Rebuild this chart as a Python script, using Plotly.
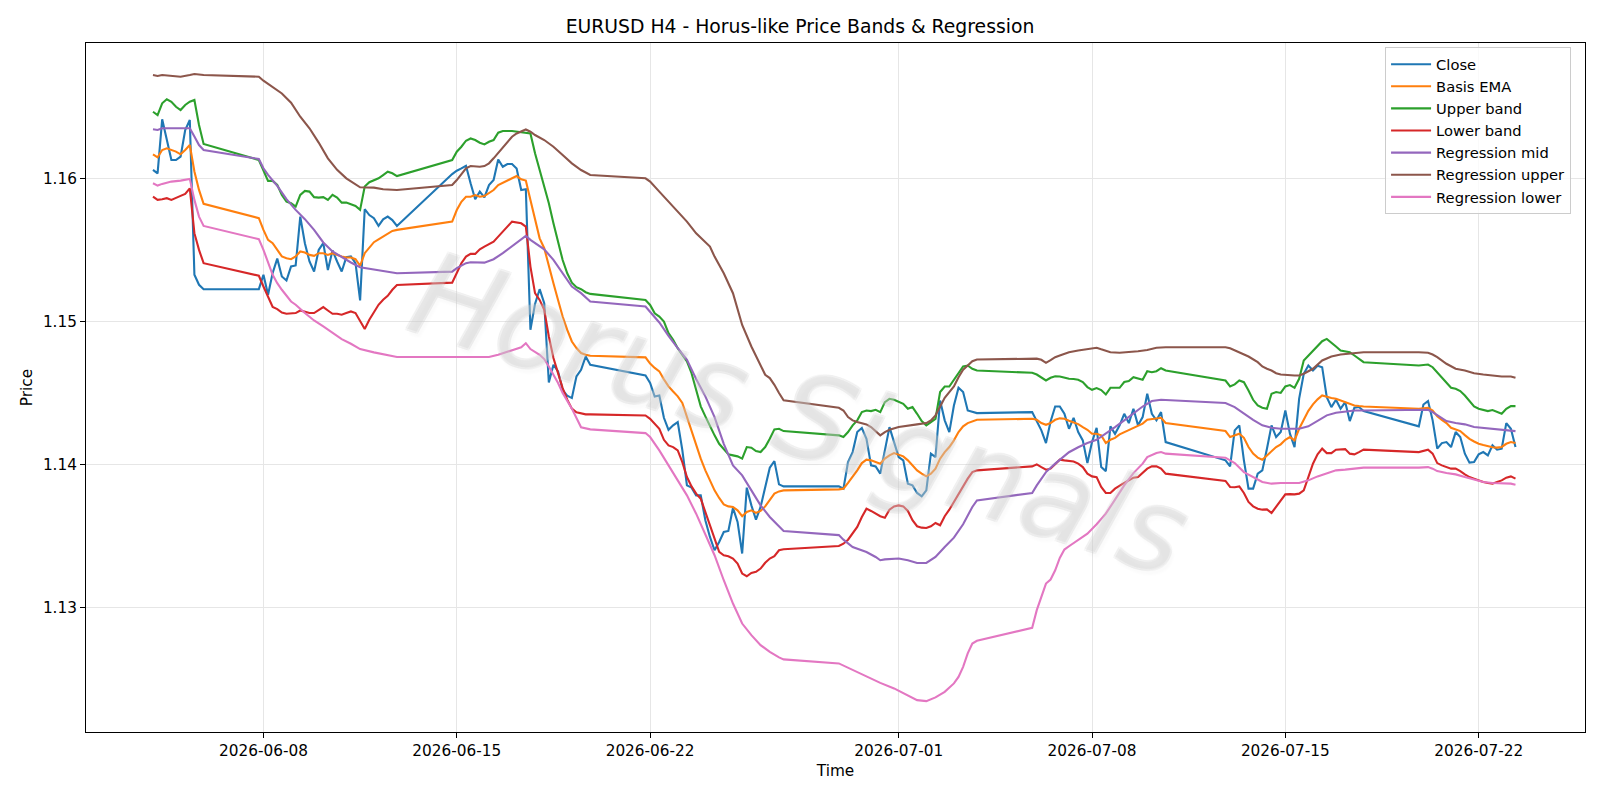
import pandas as pd
import plotly.graph_objects as go

BASE = pd.Timestamp("2026-06-04 00:00")

# Close (hours since 2026-06-04 00:00, price)
close_h = [0,4,8,12,16,20,24,28,32,36,40,44,
           92,96,100,104,108,112,116,120,124,128,132,136,140,144,148,152,156,160,164,168,172,176,180,184,188,192,196,200,204,208,212,
           260,264,268,272,276,280,284,288,292,296,300,304,308,312,316,320,324,328,332,336,340,344,348,352,356,360,364,368,372,376,380,
           428,432,436,440,444,448,452,456,460,464,468,472,476,480,484,488,492,496,500,504,508,512,516,520,524,528,532,536,540,544,548,
           596,600,604,608,612,616,620,624,628,632,636,640,644,648,652,656,660,664,668,672,676,680,684,688,692,696,700,704,708,712,716,
           764,768,772,776,780,784,788,792,796,800,804,808,812,816,820,824,828,832,836,840,844,848,852,856,860,864,868,872,876,880,
           932,936,940,944,948,952,956,960,964,968,972,976,980,984,988,992,996,1000,1004,1008,1012,1016,1020,1024,1028,1032,1036,1040,1044,1048,1052,
           1100,1104,1108,1112,1116,1120,1124,1128,1132,1136,1140,1144,1148,1152,1156,1160,1164,1168,1172,1176,1180,1184]
close_v = [1.16061,1.16037,1.16415,1.1627,1.1613,1.1613,1.16154,1.1634,1.1641,1.15327,1.15257,1.15226,
           1.15226,1.15327,1.15187,1.1534,1.1544,1.15315,1.15287,1.15385,1.15392,1.15734,1.15548,1.1542,1.1535,1.155,1.15548,1.1536,1.15497,1.1542,1.1535,1.1545,1.15455,1.15408,1.15147,1.15786,1.15745,1.15723,1.15669,1.15715,1.15734,1.1571,1.15669,
           1.16032,1.16055,1.16071,1.1609,1.15967,1.15855,1.15909,1.15869,1.15955,1.1599,1.16134,1.16083,1.16102,1.16102,1.16071,1.1592,1.15925,1.14942,1.15123,1.15226,1.15128,1.14574,1.14697,1.1465,1.14522,1.1448,1.14464,1.14616,1.14662,1.14755,1.14697,
           1.14623,1.1457,1.14475,1.14482,1.14326,1.14242,1.14273,1.14296,1.141,1.13853,1.13837,1.13783,1.13783,1.13609,1.13492,1.13399,1.13457,1.13527,1.13534,1.13695,1.13597,1.13376,1.13837,1.13713,1.13613,1.13702,1.13842,1.13977,1.14023,1.1386,1.13846,
           1.13846,1.1383,1.14016,1.14086,1.14226,1.14254,1.14179,1.13993,1.13986,1.13935,1.1411,1.14261,1.14156,1.14051,1.14028,1.13865,1.13853,1.138,1.13776,1.13818,1.14075,1.14051,1.14447,1.14308,1.14226,1.14412,1.14536,1.14506,1.14377,1.14366,1.14359,
           1.14366,1.1430,1.14238,1.14149,1.1430,1.14405,1.14405,1.14354,1.14249,1.14326,1.14226,1.14168,1.14009,1.14156,1.14256,1.13981,1.13953,1.14266,1.14214,1.14273,1.14354,1.14289,1.14389,1.14273,1.14331,1.14494,1.14354,1.14308,1.14366,1.14156,
           1.14028,1.13986,1.14238,1.14273,1.14028,1.1383,1.1383,1.13935,1.13958,1.1411,1.14273,1.14191,1.14226,1.14377,1.14215,1.14121,1.1446,1.14634,1.14692,1.14657,1.1469,1.1468,1.14471,1.14401,1.14452,1.14389,1.14436,1.14303,1.14396,1.14401,1.14373,
           1.14266,1.14419,1.14443,1.14308,1.1411,1.14149,1.14156,1.14121,1.14226,1.14191,1.14075,1.14012,1.14016,1.1407,1.14086,1.14063,1.14133,1.14103,1.1411,1.14289,1.14249,1.14121]

# Basis EMA
ema_h = [0,4,8,12,20,24,28,32,36,40,44,92,96,100,104,108,112,116,120,124,128,132,136,140,144,148,152,156,160,164,168,172,176,180,184,188,192,196,200,204,208,212,
         260,264,268,272,276,280,284,288,292,296,300,304,308,312,316,320,324,328,332,336,340,344,348,352,356,360,364,368,372,376,380,
         428,432,436,440,444,448,452,456,460,464,468,472,476,480,484,488,492,496,500,504,508,512,516,520,524,528,532,536,540,544,548,
         596,600,604,608,612,616,620,624,628,632,636,640,644,648,652,656,660,664,668,672,676,680,684,688,692,696,700,704,708,712,716,
         764,768,772,776,780,784,788,792,796,800,804,808,812,816,820,824,828,832,836,840,844,848,852,856,860,864,868,872,876,880,
         932,936,940,944,948,952,956,960,964,968,972,976,980,984,988,992,996,1000,1004,1008,1012,1016,1020,1024,1028,1032,1036,1040,1044,1048,1052,
         1100,1104,1108,1112,1116,1120,1124,1128,1132,1136,1140,1144,1148,1152,1156,1160,1164,1168,1172,1176,1180,1184]
ema_v = [1.1617,1.16149,1.162,1.16212,1.16189,1.1617,1.162,1.16235,1.1605,1.15921,1.15823,1.15723,1.15641,1.15571,1.15548,1.15501,1.15455,1.15443,1.15436,1.15455,1.1549,1.15483,1.15466,1.15459,1.15478,1.15478,1.15466,1.15478,1.15466,1.15455,1.15448,1.15448,1.15436,1.1539,1.15478,1.1552,1.15555,1.15575,1.15594,1.15615,1.15634,1.15641,
         1.15699,1.1578,1.15838,1.15873,1.15873,1.15885,1.15873,1.15878,1.15897,1.1592,1.15955,1.15971,1.1599,1.16007,1.16018,1.15995,1.15986,1.1585,1.1571,1.15582,1.15513,1.15384,1.15267,1.15151,1.15035,1.14941,1.1486,1.14814,1.14779,1.14767,1.1476,
         1.14749,1.14705,1.14675,1.14651,1.14595,1.14546,1.1451,1.14476,1.1443,1.1433,1.14235,1.14133,1.1404,1.13958,1.13885,1.13818,1.13765,1.1372,1.13706,1.13702,1.13678,1.13637,1.13667,1.13678,1.1366,1.13674,1.13706,1.13755,1.13795,1.13811,1.13818,
         1.13825,1.1383,1.1387,1.13911,1.13958,1.14009,1.14033,1.14028,1.14016,1.14005,1.1404,1.14063,1.14079,1.1407,1.14056,1.14028,1.13993,1.13958,1.13935,1.13916,1.13935,1.1397,1.1404,1.14086,1.14121,1.14168,1.14226,1.14266,1.14289,1.14303,1.14312,
         1.14319,1.14312,1.14289,1.14277,1.14289,1.14312,1.14322,1.14319,1.14305,1.14295,1.14282,1.1426,1.14242,1.14214,1.14214,1.14203,1.14149,1.14172,1.14185,1.1421,1.14225,1.14238,1.1425,1.14266,1.14285,1.14312,1.14316,1.14319,1.14326,1.1429,
         1.14233,1.14191,1.14203,1.14214,1.14186,1.14121,1.14075,1.14047,1.14033,1.14063,1.14098,1.14121,1.1414,1.14172,1.14191,1.14168,1.14249,1.1431,1.14375,1.1442,1.14455,1.14482,1.14471,1.14465,1.14459,1.14448,1.14436,1.14425,1.14412,1.14408,1.14405,
         1.14389,1.14392,1.14396,1.14377,1.14336,1.14312,1.14289,1.14256,1.14245,1.14233,1.14205,1.14179,1.1416,1.14144,1.14135,1.14126,1.1412,1.14117,1.14122,1.14144,1.14156,1.14149]

# Upper band
up_h = [0,4,8,12,16,20,24,28,32,36,40,44,92,96,100,104,108,112,116,120,124,128,132,136,140,144,148,152,156,160,164,168,172,176,180,184,188,192,196,200,204,208,212,
        260,264,268,272,276,280,284,288,292,296,300,304,312,320,324,328,332,336,340,344,348,352,356,360,364,368,372,376,380,
        428,432,436,440,444,448,452,456,460,464,468,472,476,480,484,488,492,496,500,504,508,512,516,520,524,528,532,536,540,544,548,
        596,600,604,608,612,616,620,624,628,632,636,640,644,648,652,656,660,664,668,672,676,680,684,688,692,696,700,704,708,712,716,
        764,768,772,776,780,784,788,792,796,800,804,808,812,816,820,824,828,832,836,840,844,848,852,856,860,864,868,872,876,880,
        932,936,940,944,948,952,956,960,964,968,972,976,980,984,988,992,996,1000,1004,1008,1012,1016,1020,1024,1028,1032,1036,1040,1044,1048,1052,
        1100,1104,1108,1112,1116,1120,1124,1128,1132,1136,1140,1144,1148,1152,1156,1160,1164,1168,1172,1176,1180,1184]
up_v = [1.16468,1.16445,1.16527,1.16555,1.16538,1.16503,1.1648,1.16515,1.16538,1.1655,1.16375,1.16242,1.1613,1.16061,1.15984,1.15984,1.15956,1.15886,1.15839,1.15828,1.15804,1.15886,1.15914,1.15909,1.1587,1.15867,1.1587,1.15851,1.15886,1.15867,1.15832,1.15832,1.15823,1.15809,1.15781,1.15944,1.15975,1.1599,1.16002,1.16025,1.16048,1.16037,1.16018,
        1.1613,1.16188,1.16223,1.16265,1.16281,1.1627,1.16251,1.16239,1.16258,1.1627,1.16321,1.16333,1.16333,1.16323,1.1632,1.16316,1.16177,1.1606,1.15955,1.15827,1.15687,1.15547,1.1543,1.15337,1.15272,1.1524,1.15226,1.15205,1.15193,
        1.1515,1.15116,1.15057,1.15034,1.14999,1.14918,1.14871,1.14813,1.14767,1.1472,1.14638,1.14522,1.14406,1.14336,1.14266,1.14203,1.14144,1.1411,1.1407,1.14063,1.14056,1.1404,1.14121,1.14117,1.14093,1.14086,1.14121,1.14179,1.14245,1.14249,1.14233,
        1.14203,1.14191,1.14226,1.14273,1.14308,1.14366,1.14377,1.14373,1.14382,1.14366,1.14436,1.14459,1.14452,1.14436,1.14424,1.14389,1.14401,1.14354,1.14303,1.14273,1.14296,1.14319,1.14506,1.14545,1.14545,1.14592,1.14645,1.14685,1.14692,1.14669,1.14657,
        1.14641,1.14629,1.14606,1.14587,1.14606,1.14617,1.14615,1.14606,1.14599,1.14597,1.14592,1.14576,1.14541,1.14522,1.14534,1.1452,1.14489,1.14536,1.14536,1.14536,1.14576,1.14583,1.1461,1.14599,1.14592,1.14652,1.14645,1.14652,1.14673,1.14657,
        1.14587,1.14545,1.1456,1.14587,1.14575,1.14517,1.14452,1.14412,1.14396,1.14389,1.14494,1.14506,1.145,1.14545,1.14555,1.14536,1.14599,1.14727,1.14762,1.14797,1.14832,1.14862,1.14878,1.14848,1.14825,1.14797,1.1479,1.14785,1.14762,1.14739,1.14715,
        1.14692,1.14696,1.14699,1.1468,1.14645,1.1461,1.14569,1.14536,1.14529,1.14513,1.14482,1.14443,1.14405,1.14389,1.1438,1.14373,1.1438,1.14366,1.14354,1.14389,1.14408,1.14408]

# Lower band
lo_h = up_h
lo_v = [1.15874,1.15851,1.15856,1.15863,1.15851,1.15867,1.15879,1.15893,1.15932,1.15618,1.15501,1.15408,1.1532,1.15245,1.15171,1.15101,1.15087,1.15063,1.15054,1.15054,1.15059,1.15077,1.1507,1.15059,1.15059,1.15077,1.15101,1.15077,1.15054,1.15054,1.15047,1.15059,1.1507,1.15059,1.15,1.14947,1.15012,1.15063,1.15117,1.15152,1.1518,1.15222,1.15256,
        1.15272,1.15338,1.15408,1.15454,1.15473,1.15473,1.15505,1.15524,1.15543,1.15559,1.15594,1.15629,1.15699,1.15687,1.15664,1.15384,1.15198,1.15151,1.15081,1.14895,1.14744,1.14639,1.14534,1.14453,1.1439,1.14365,1.14355,1.1435,1.1435,
        1.14342,1.14319,1.14284,1.14249,1.14172,1.14133,1.14121,1.14098,1.14016,1.13911,1.13846,1.13795,1.1376,1.13667,1.13562,1.13469,1.13387,1.13364,1.13357,1.13341,1.13306,1.13236,1.13217,1.1324,1.13248,1.13271,1.13311,1.13341,1.13357,1.13399,1.13406,
        1.13429,1.13445,1.13473,1.13515,1.13562,1.13632,1.1369,1.13674,1.13655,1.13637,1.13627,1.13683,1.13706,1.13713,1.13706,1.13674,1.13609,1.13567,1.13557,1.13555,1.13567,1.1359,1.13574,1.13637,1.13683,1.13737,1.138,1.13853,1.139,1.13946,1.13958,
        1.13986,1.14,1.13981,1.13963,1.1397,1.14005,1.14033,1.14028,1.14023,1.1402,1.14005,1.13981,1.13935,1.13916,1.13911,1.13842,1.138,1.138,1.1383,1.13853,1.1387,1.13888,1.13907,1.13911,1.13939,1.1397,1.13986,1.13986,1.1397,1.13935,
        1.13884,1.13842,1.1384,1.13846,1.138,1.13737,1.13706,1.1369,1.13683,1.13685,1.1366,1.13702,1.13748,1.1379,1.13792,1.1379,1.13795,1.13818,1.13911,1.14005,1.1407,1.1411,1.14079,1.14079,1.14103,1.14105,1.14107,1.14075,1.1407,1.14086,1.14103,
        1.14086,1.14095,1.14103,1.14075,1.14009,1.13993,1.13981,1.1397,1.1397,1.13953,1.1393,1.13911,1.139,1.13888,1.13877,1.1387,1.13865,1.13877,1.13888,1.13907,1.13916,1.139]

# Regression mid
rm_h = [0,4,8,32,36,40,44,92,96,100,108,116,124,132,140,148,156,164,172,180,188,196,212,260,264,272,276,288,296,304,312,320,324,328,336,340,348,356,364,372,380,
        428,432,440,448,452,456,460,464,472,480,488,496,504,512,520,528,536,544,548,596,600,608,620,628,632,636,648,656,664,672,680,688,696,704,712,716,
        764,768,772,776,784,792,796,804,812,820,828,836,844,852,860,868,876,880,932,940,948,956,964,972,980,996,1004,1012,1020,1028,1036,1044,1052,
        1100,1108,1112,1116,1124,1132,1140,1148,1156,1164,1172,1180,1184]
rm_v = [1.16345,1.1634,1.16352,1.16352,1.16294,1.16235,1.162,1.16137,1.16072,1.16026,1.15949,1.15856,1.15781,1.15716,1.15641,1.15553,1.1549,1.1545,1.15413,1.1538,1.15369,1.15355,1.15338,1.15349,1.15373,1.15408,1.15415,1.15412,1.15436,1.15478,1.15524,1.15571,1.15599,1.15571,1.15524,1.15505,1.15431,1.15338,1.15245,1.15198,1.1514,
        1.15105,1.1507,1.14993,1.149,1.14853,1.14813,1.14774,1.14732,1.14597,1.14476,1.14331,1.14144,1.13993,1.13923,1.13818,1.13713,1.13632,1.13562,1.13534,1.13505,1.13473,1.13422,1.13387,1.13352,1.13329,1.13335,1.13341,1.13329,1.1331,1.1331,1.13352,1.13422,1.13487,1.13581,1.13702,1.13748,
        1.138,1.13853,1.139,1.13946,1.14005,1.1406,1.14085,1.1412,1.14149,1.14172,1.14214,1.14261,1.14308,1.14354,1.14405,1.14443,1.14452,1.1445,1.14429,1.14401,1.14354,1.14312,1.14273,1.14256,1.14249,1.14249,1.14266,1.14303,1.14343,1.14361,1.14371,1.14377,1.14377,
        1.14377,1.14382,1.14366,1.14343,1.14303,1.14289,1.1428,1.14261,1.14254,1.14249,1.14242,1.14238,1.14233]

# Regression upper
ru_h = [0,4,8,16,24,32,36,44,92,96,104,112,120,128,136,144,152,160,168,176,180,192,200,212,260,264,268,272,276,284,288,292,296,300,304,308,312,316,320,324,328,332,340,348,356,364,372,380,
        428,432,440,448,456,464,472,480,484,488,496,504,512,520,528,532,536,540,544,548,596,600,604,608,612,620,624,628,632,636,640,648,656,664,672,676,680,684,688,692,696,700,704,708,712,716,
        764,768,772,776,780,784,788,792,796,804,812,820,824,832,840,848,856,864,872,880,932,936,944,952,960,964,968,972,976,980,992,996,1000,1008,1016,1024,1032,1040,1052,
        1100,1108,1112,1116,1124,1132,1140,1148,1156,1164,1172,1180,1184]
ru_v = [1.16725,1.16718,1.16725,1.1672,1.16713,1.16725,1.16732,1.16725,1.16713,1.16685,1.16638,1.16596,1.16531,1.16433,1.16352,1.16252,1.16142,1.16061,1.16002,1.15956,1.15939,1.15937,1.15925,1.1592,1.15955,1.1599,1.16032,1.16072,1.16088,1.16083,1.16088,1.16107,1.16142,1.16181,1.16223,1.16258,1.16293,1.16316,1.16328,1.16344,1.16328,1.16305,1.1627,1.16223,1.16165,1.16107,1.1606,1.16025,
        1.16002,1.15979,1.15909,1.15839,1.15769,1.15699,1.15617,1.15555,1.15524,1.15454,1.15337,1.15198,1.14976,1.14825,1.14685,1.14627,1.14604,1.14557,1.14499,1.14448,1.14396,1.14377,1.14331,1.14308,1.14296,1.1428,1.14261,1.14233,1.14203,1.14226,1.14242,1.14261,1.14273,1.1428,1.14289,1.14308,1.14343,1.14405,1.14466,1.14506,1.14545,1.1461,1.14662,1.14692,1.14722,1.14734,
        1.14743,1.1474,1.14732,1.14711,1.1473,1.1475,1.14762,1.14774,1.14785,1.14797,1.14809,1.14816,1.14805,1.14785,1.14781,1.14785,1.14792,1.148,1.14816,1.1482,1.1482,1.14812,1.14785,1.14755,1.14715,1.14685,1.14669,1.14657,1.14638,1.14629,1.14622,1.14622,1.14634,1.14669,1.14727,1.14755,1.14769,1.14774,1.14785,
        1.14785,1.14781,1.14769,1.1475,1.14704,1.14669,1.14657,1.14638,1.14629,1.1462,1.14615,1.14615,1.14606]

# Regression lower
rl_h = [0,4,8,16,24,32,36,40,44,92,96,100,104,108,112,120,124,132,140,148,156,164,172,180,192,212,260,292,300,312,320,324,328,336,340,344,348,352,356,360,364,372,380,
        428,432,440,448,456,464,472,480,488,496,504,512,520,528,536,544,548,596,608,620,632,644,656,664,672,680,688,696,700,704,708,712,716,
        764,768,772,776,780,784,788,792,796,804,812,820,828,836,844,852,860,864,872,876,880,932,940,948,956,964,972,980,996,1004,1012,1020,1028,1036,1044,1052,
        1100,1108,1112,1116,1124,1132,1140,1148,1156,1164,1172,1180,1184]
rl_v = [1.15967,1.15951,1.15963,1.15979,1.15986,1.15998,1.15851,1.15734,1.15669,1.15576,1.15501,1.15408,1.15327,1.15268,1.15222,1.1514,1.15117,1.15059,1.15007,1.14965,1.14924,1.14877,1.14844,1.14807,1.14784,1.14751,1.14751,1.14751,1.14767,1.14797,1.1482,1.14848,1.14807,1.14767,1.14737,1.14685,1.14627,1.14569,1.14499,1.1444,1.1439,1.1426,1.14245,
        1.14219,1.14191,1.14098,1.13993,1.13888,1.13783,1.13655,1.13515,1.13364,1.13189,1.13026,1.12886,1.12805,1.12735,1.12688,1.12649,1.12635,1.12607,1.1256,1.12513,1.12471,1.12432,1.12385,1.1235,1.12343,1.12369,1.12408,1.12467,1.12513,1.12583,1.12677,1.12746,1.12765,
        1.12856,1.1298,1.13073,1.13166,1.13194,1.13259,1.13345,1.13404,1.13427,1.13473,1.13515,1.13581,1.13655,1.13753,1.13853,1.13939,1.14005,1.14051,1.14079,1.14086,1.14075,1.14047,1.14009,1.13946,1.13911,1.13877,1.13865,1.1387,1.1387,1.13888,1.13916,1.13939,1.13958,1.13963,1.1397,1.13977,
        1.13977,1.13981,1.1397,1.13953,1.13939,1.1393,1.13911,1.13893,1.13877,1.1387,1.1387,1.13865,1.13858]

series_names = ["Close", "Basis EMA", "Upper band", "Lower band",
                "Regression mid", "Regression upper", "Regression lower"]
series_data = [(close_h, close_v), (ema_h, ema_v), (up_h, up_v), (lo_h, lo_v),
               (rm_h, rm_v), (ru_h, ru_v), (rl_h, rl_v)]
colors = ["#1f77b4", "#ff7f0e", "#2ca02c", "#d62728", "#9467bd", "#8c564b", "#e377c2"]

x_ticks = ["2026-06-08", "2026-06-15", "2026-06-22", "2026-07-01",
           "2026-07-08", "2026-07-15", "2026-07-22"]
y_ticks = [1.13, 1.14, 1.15, 1.16]

FONT = "DejaVu Sans"
TICK = 15.3

fig = go.Figure()
for name, (hh, vv), col in zip(series_names, series_data, colors):
    xs = [BASE + pd.Timedelta(hours=h) for h in hh]
    fig.add_trace(go.Scatter(x=xs, y=vv, mode="lines", name=name,
                             line=dict(color=col, width=2.1)))

# watermark
fig.add_annotation(
    text="Horus Signals", xref="paper", yref="paper", x=0.476, y=0.462,
    showarrow=False, textangle=18,
    font=dict(family=FONT, size=118, color="rgba(255,255,255,0.15)", style="italic",
              shadow="1px 1px 0 rgba(185,185,185,0.75), -1px -1px 0 rgba(185,185,185,0.75), "
                     "1px -1px 0 rgba(185,185,185,0.75), -1px 1px 0 rgba(185,185,185,0.75), "
                     "4px 4px 3px rgba(0,0,0,0.12)"),
)

fig.update_layout(
    width=1600, height=800,
    margin=dict(l=86, r=15, t=43, b=68),
    paper_bgcolor="white", plot_bgcolor="white",
    font=dict(family=FONT, size=TICK, color="black"),
    title=dict(text="EURUSD H4 - Horus-like Price Bands & Regression",
               x=0.5, xref="container", y=1 - 26.5 / 800, yref="container",
               yanchor="middle", xanchor="center",
               font=dict(family=FONT, size=18.8, color="black")),
    showlegend=True,
    legend=dict(x=0.9907, y=0.994, xanchor="right", yanchor="top",
                bgcolor="rgba(255,255,255,0.8)", bordercolor="#cccccc", borderwidth=1,
                font=dict(family=FONT, size=14.7), itemwidth=40,
                tracegroupgap=0),
)

fig.update_xaxes(
    type="date", range=["2026-06-01 13:48", "2026-07-25 20:24"],
    tickvals=x_ticks, tickformat="%Y-%m-%d",
    tickfont=dict(family=FONT, size=TICK),
    showgrid=True, gridcolor="#e6e6e6", gridwidth=1,
    showline=True, linecolor="black", linewidth=1, mirror=True,
    ticks="outside", ticklen=5, tickwidth=1, tickcolor="black",
    zeroline=False,
    title=dict(text="Time", font=dict(family=FONT, size=TICK), standoff=5),
)
fig.update_yaxes(
    range=[1.12127, 1.16949], tickvals=y_ticks, tickformat=".2f",
    tickfont=dict(family=FONT, size=TICK),
    showgrid=True, gridcolor="#e6e6e6", gridwidth=1,
    showline=True, linecolor="black", linewidth=1, mirror=True,
    ticks="outside", ticklen=5, tickwidth=1, tickcolor="black",
    zeroline=False,
    title=dict(text="Price", font=dict(family=FONT, size=TICK), standoff=6),
)

fig.write_html("out.html")
